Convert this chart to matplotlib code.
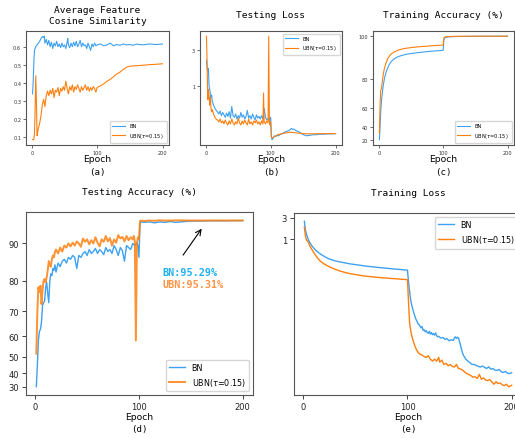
import numpy as np
import matplotlib.pyplot as plt

BLUE = '#3ea1f2'
ORANGE = '#ff7f0e'

# ---- (a) average feature cosine similarity ----
cos_bn_ep = [1, 2, 3, 4, 5, 6, 8, 10, 12, 14, 16, 18, 19, 20, 22, 24, 26, 28, 30, 32, 34, 36, 38, 40,
             42, 44, 46, 48, 50, 52, 54, 55, 56, 58, 60, 62, 64, 66, 68, 70, 72, 74, 76, 78, 80, 82,
             84, 86, 88, 90, 92, 94, 96, 98, 100, 105, 110, 115, 120, 125, 130, 135, 140, 145, 150,
             155, 160, 170, 180, 190, 200]
cos_bn = [0.34, 0.40, 0.51, 0.58, 0.59, 0.60, 0.61, 0.62, 0.63, 0.645, 0.655, 0.65, 0.658, 0.62,
          0.64, 0.61, 0.635, 0.60, 0.625, 0.59, 0.62, 0.605, 0.63, 0.60, 0.615, 0.595, 0.62, 0.60,
          0.61, 0.59, 0.625, 0.645, 0.61, 0.595, 0.62, 0.60, 0.625, 0.605, 0.63, 0.60, 0.615, 0.635,
          0.60, 0.62, 0.605, 0.61, 0.59, 0.62, 0.60, 0.58, 0.615, 0.60, 0.62, 0.605, 0.61, 0.615,
          0.605, 0.61, 0.62, 0.605, 0.612, 0.608, 0.615, 0.61, 0.612, 0.608, 0.614, 0.61, 0.615,
          0.612, 0.615]
cos_ubn_ep = [1, 2, 3, 4, 5, 6, 7, 8, 9, 10, 12, 14, 16, 18, 20, 22, 24, 26, 28, 30, 32, 34, 36, 38,
              40, 42, 44, 46, 48, 50, 52, 54, 56, 58, 60, 62, 64, 66, 68, 70, 72, 74, 76, 78, 80,
              82, 84, 86, 88, 90, 92, 94, 96, 98, 100, 105, 110, 115, 120, 125, 130, 135, 140, 145,
              150, 160, 170, 180, 190, 200]
cos_ubn = [0.088, 0.087, 0.09, 0.12, 0.25, 0.44, 0.30, 0.11, 0.13, 0.15, 0.18, 0.22, 0.28, 0.31,
           0.27, 0.33, 0.355, 0.33, 0.36, 0.34, 0.37, 0.32, 0.36, 0.35, 0.375, 0.33, 0.37, 0.355,
           0.38, 0.36, 0.41, 0.37, 0.34, 0.38, 0.36, 0.39, 0.35, 0.38, 0.365, 0.39, 0.37, 0.35,
           0.38, 0.36, 0.375, 0.39, 0.36, 0.38, 0.355, 0.375, 0.36, 0.38, 0.37, 0.35, 0.375, 0.385,
           0.395, 0.41, 0.42, 0.435, 0.45, 0.46, 0.475, 0.487, 0.493, 0.495, 0.498, 0.501, 0.503,
           0.506]

# ---- (b) testing loss ----
tl_bn_ep = [1, 2, 3, 4, 5, 6, 7, 8, 9, 10, 12, 14, 16, 18, 20, 22, 24, 26, 28, 30, 32, 34, 36, 38,
            40, 42, 44, 46, 48, 50, 52, 54, 56, 58, 60, 62, 64, 66, 68, 70, 72, 74, 76, 78, 80, 82,
            84, 86, 88, 90, 92, 94, 96, 98, 100, 101, 102, 104, 106, 108, 110, 112, 115, 118, 121,
            124, 127, 130, 132, 134, 136, 138, 140, 143, 146, 149, 152, 155, 160, 165, 170, 175,
            180, 185, 190, 195, 200]
tl_bn = [2.2, 1.7, 1.55, 1.7, 1.0, 0.9, 0.8, 0.7, 0.75, 0.62, 0.55, 0.5, 0.47, 0.45, 0.42, 0.46,
         0.40, 0.44, 0.41, 0.38, 0.43, 0.39, 0.45, 0.37, 0.53, 0.40, 0.38, 0.42, 0.36, 0.40, 0.37,
         0.44, 0.38, 0.41, 0.36, 0.39, 0.47, 0.37, 0.40, 0.36, 0.42, 0.38, 0.35, 0.41, 0.37, 0.39,
         0.36, 0.40, 0.36, 0.50, 0.38, 0.35, 0.37, 0.34, 0.38, 0.21, 0.19, 0.20, 0.215, 0.21, 0.22,
         0.215, 0.225, 0.23, 0.24, 0.245, 0.25, 0.26, 0.27, 0.26, 0.265, 0.255, 0.25, 0.245, 0.235,
         0.225, 0.22, 0.215, 0.218, 0.222, 0.222, 0.226, 0.225, 0.227, 0.228, 0.228, 0.23]
tl_ubn_ep = [1, 2, 3, 4, 5, 6, 7, 8, 9, 10, 12, 14, 16, 18, 20, 22, 24, 26, 28, 30, 32, 34, 36, 38,
             40, 42, 44, 46, 48, 50, 52, 54, 56, 58, 60, 62, 64, 66, 68, 70, 72, 74, 76, 78, 80,
             82, 84, 86, 88, 89, 90, 92, 94, 96, 97, 98, 99, 100, 101, 102, 104, 106, 108, 110,
             113, 116, 120, 125, 130, 135, 140, 145, 150, 160, 170, 180, 190, 200]
tl_ubn = [4.6, 2.0, 0.65, 0.9, 0.75, 0.55, 0.7, 0.5, 0.45, 0.48, 0.42, 0.38, 0.36, 0.35, 0.33,
          0.36, 0.32, 0.34, 0.31, 0.35, 0.32, 0.30, 0.34, 0.31, 0.36, 0.32, 0.30, 0.33, 0.31, 0.37,
          0.32, 0.30, 0.34, 0.31, 0.35, 0.32, 0.30, 0.36, 0.31, 0.33, 0.30, 0.34, 0.32, 0.35, 0.31,
          0.33, 0.30, 0.34, 0.31, 0.8, 0.33, 0.31, 0.34, 0.32, 4.6, 0.35, 0.30, 0.33, 0.21, 0.20,
          0.205, 0.21, 0.215, 0.22, 0.225, 0.228, 0.232, 0.236, 0.24, 0.238, 0.235, 0.232, 0.23,
          0.228, 0.229, 0.23, 0.23, 0.23]

# ---- (c) training accuracy ----
ta_bn_ep = [1, 2, 3, 4, 5, 6, 7, 8, 9, 10, 12, 14, 16, 18, 20, 23, 26, 30, 35, 40, 45, 50, 60, 70,
            80, 90, 99, 100, 101, 102, 104, 106, 110, 120, 130, 150, 175, 200]
ta_bn = [20, 40, 56, 64, 69, 73, 76, 78.5, 80.5, 82, 84.5, 86, 87.5, 88.5, 89.3, 90.2, 90.8, 91.4,
         91.9, 92.3, 92.6, 92.8, 93.2, 93.5, 93.8, 94.0, 94.2, 94.3, 98.5, 99.2, 99.5, 99.65, 99.75,
         99.85, 99.9, 99.95, 99.97, 99.98]
ta_ubn_ep = [1, 2, 3, 4, 5, 6, 7, 8, 9, 10, 12, 14, 16, 18, 20, 25, 30, 35, 40, 50, 60, 70, 80, 90,
             99, 100, 101, 102, 105, 110, 120, 140, 170, 200]
ta_ubn = [31, 62, 73, 74, 77, 80, 82.5, 84.5, 86, 87.3, 89, 90.5, 91.5, 92.2, 92.8, 93.7, 94.3,
          94.7, 95.0, 95.4, 95.7, 95.9, 96.1, 96.3, 96.4, 96.5, 99.2, 99.6, 99.8, 99.88, 99.93,
          99.96, 99.98, 99.99]

# ---- (d) testing accuracy ----
te_bn_ep = [1, 2, 3, 4, 5, 6, 7, 8, 9, 10, 11, 12, 13, 14, 15, 16, 17, 18, 19, 20, 22, 24, 26, 28,
            30, 32, 34, 36, 38, 40, 42, 44, 46, 48, 50, 52, 54, 56, 58, 60, 62, 64, 66, 68, 70, 72,
            74, 76, 78, 80, 82, 84, 86, 88, 90, 92, 94, 96, 98, 99, 100, 101, 102, 105, 110, 115,
            120, 125, 130, 135, 140, 145, 150, 160, 170, 180, 190, 200]
te_bn = [30.2, 45, 58, 62, 63, 66, 72, 73, 73.5, 78, 79.5, 76, 73, 80, 82, 81.5, 83.5, 83, 84.5,
         82.5, 85, 84, 85.5, 86, 85, 86.5, 86, 87, 86.5, 83.5, 87, 86.5, 87.5, 88, 87, 88.5, 87.5,
         88, 88.8, 87.5, 88.5, 88, 87.2, 89, 88, 88.5, 87.5, 89.5, 88.5, 87, 89, 88.2, 85.5, 89.5,
         89, 88.5, 90, 89.5, 90.2, 89.5, 86.5, 94.8, 95.0, 94.9, 95.0, 94.8, 95.0, 94.9, 95.1, 94.9,
         95.0, 95.1, 95.2, 95.2, 95.25, 95.25, 95.28, 95.29]
te_ubn_ep = [1, 2, 3, 4, 5, 6, 7, 8, 9, 10, 11, 12, 13, 14, 15, 16, 17, 18, 19, 20, 22, 24, 26, 28,
             30, 32, 34, 36, 38, 40, 42, 44, 46, 48, 50, 52, 54, 56, 58, 60, 62, 64, 66, 68, 70,
             72, 74, 76, 78, 80, 82, 84, 86, 88, 90, 92, 94, 95, 96, 97, 98, 99, 100, 101, 102,
             105, 110, 115, 120, 125, 130, 140, 150, 160, 170, 180, 190, 200]
te_ubn = [51.5, 70, 78, 76.5, 78.5, 72.5, 77, 80, 80.5, 79.5, 81, 83, 85.5, 84.5, 84, 86, 87, 86.5,
          88, 88.5, 87.5, 89, 88, 89.5, 89, 90, 89.3, 90.2, 89.5, 90.5, 90, 89.2, 91.2, 90.4, 91,
          89.8, 90.8, 90, 91.5, 90.2, 89.3, 91, 90.4, 91.8, 90.5, 91.3, 89.5, 91, 90.2, 92, 91.2,
          91.6, 90.5, 91.8, 90.8, 91.5, 91, 91.8, 90.5, 58, 90, 91.5, 91, 95.2, 95.3, 95.2, 95.3,
          95.25, 95.35, 95.3, 95.3, 95.35, 95.3, 95.3, 95.31, 95.3, 95.31, 95.31]

# ---- (e) training loss ----
tr_bn_ep = [1, 2, 3, 4, 5, 6, 8, 10, 12, 15, 18, 21, 25, 30, 35, 40, 45, 50, 55, 60, 65, 70, 75,
            80, 85, 90, 95, 99, 100, 101, 102, 103, 104, 105, 106, 107, 108, 109, 110, 111, 112,
            113, 114, 115, 116, 117, 118, 119, 120, 121, 122, 123, 124, 125, 126, 127, 128, 129,
            130, 132, 134, 136, 138, 140, 142, 144, 145, 146, 147, 148, 149, 150, 151, 152, 153,
            154, 155, 156, 158, 160, 162, 164, 166, 168, 170, 172, 174, 176, 178, 180, 182, 184,
            186, 188, 190, 192, 194, 196, 198, 200]
tr_bn = [2.5, 1.6, 1.3, 1.1, 0.95, 0.85, 0.72, 0.63, 0.56, 0.49, 0.44, 0.40, 0.36, 0.33, 0.31,
         0.295, 0.28, 0.27, 0.26, 0.25, 0.243, 0.236, 0.23, 0.224, 0.218, 0.213, 0.208, 0.204,
         0.203, 0.11, 0.07, 0.045, 0.034, 0.028, 0.023, 0.0195, 0.0165, 0.015, 0.013, 0.0125,
         0.0115, 0.0105, 0.0112, 0.0092, 0.0095, 0.0086, 0.0091, 0.0082, 0.0079, 0.0088, 0.0076,
         0.0083, 0.0074, 0.0078, 0.0072, 0.0081, 0.007, 0.0066, 0.0068, 0.0062, 0.0064, 0.0058,
         0.006, 0.0054, 0.0057, 0.0055, 0.0062, 0.0066, 0.0061, 0.0065, 0.0062, 0.0052, 0.0042,
         0.0034, 0.0028, 0.0025, 0.0023, 0.0021, 0.0019, 0.00175, 0.0016, 0.0016, 0.00152, 0.00145,
         0.0014, 0.00148, 0.00138, 0.0013, 0.00142, 0.00126, 0.0013, 0.0012, 0.00118, 0.00124,
         0.0011, 0.00106, 0.00112, 0.00102, 0.001, 0.00105]
tr_ubn_ep = [1, 2, 3, 4, 5, 6, 7, 8, 9, 10, 12, 14, 16, 18, 20, 23, 26, 30, 35, 40, 45, 50, 55, 60,
             65, 70, 75, 80, 85, 90, 95, 99, 100, 101, 102, 103, 104, 105, 106, 107, 108, 109, 110,
             112, 114, 116, 118, 120, 122, 124, 126, 128, 130, 131, 133, 135, 137, 139, 141, 143,
             145, 147, 149, 151, 153, 155, 157, 159, 161, 163, 165, 167, 169, 171, 173, 175, 177,
             179, 181, 183, 185, 187, 189, 191, 193, 195, 197, 199, 200]
tr_ubn = [1.85, 1.2, 0.95, 0.9, 0.85, 0.72, 0.66, 0.6, 0.55, 0.5, 0.43, 0.37, 0.33, 0.3, 0.28,
          0.255, 0.235, 0.215, 0.195, 0.18, 0.17, 0.162, 0.155, 0.149, 0.145, 0.141, 0.138, 0.135,
          0.132, 0.13, 0.127, 0.125, 0.124, 0.04, 0.014, 0.0095, 0.0072, 0.0058, 0.005, 0.0042,
          0.0037, 0.0033, 0.003, 0.0027, 0.0026, 0.0024, 0.0023, 0.0025, 0.0021, 0.0019, 0.0021,
          0.0019, 0.0023, 0.0018, 0.002, 0.0016, 0.0017, 0.0015, 0.0016, 0.00145, 0.0014, 0.0016,
          0.0013, 0.00126, 0.0012, 0.00108, 0.001, 0.00095, 0.0009, 0.00083, 0.00085, 0.00078,
          0.00096, 0.00075, 0.0008, 0.00072, 0.0007, 0.00074, 0.00065, 0.00058, 0.00066, 0.0006,
          0.00062, 0.00056, 0.00054, 0.00058, 0.00051, 0.00053, 0.00055]

LABELS = ['BN', r'UBN($\tau$=0.15)']
MONO = 'DejaVu Sans Mono'


def acc_fwd(v):
    return np.exp(np.asarray(v, dtype=float) / 50.0)


def acc_inv(v):
    return 50.0 * np.log(np.clip(np.asarray(v, dtype=float), 1e-9, None))


W, H = 515, 439
fig = plt.figure(figsize=(W / 100, H / 100), dpi=100)


def make_axes(l, r, t, b):
    return fig.add_axes([l / W, 1 - b / H, (r - l) / W, (b - t) / H])


def style(ax, small):
    for s in ax.spines.values():
        s.set_color('#555555')
        s.set_linewidth(0.8)
    if small:
        ax.tick_params(labelsize=3.6, length=2, width=0.5, pad=1.5, colors='#333333')
    else:
        ax.tick_params(labelsize=6, length=3, width=0.6, pad=2, colors='#222222')
    ax.set_xticks([0, 100, 200])
    ax.minorticks_off()


def caption(ax, letter, y_epoch, y_letter):
    bb = ax.get_position()
    xc = (bb.x0 + bb.x1) / 2
    fig.text(xc, 1 - y_epoch / H, 'Epoch', ha='center', va='center', fontsize=6.6)
    fig.text(xc, 1 - y_letter / H, letter, ha='center', va='center', fontsize=6.6, family=MONO)


# (a)
ax = make_axes(26, 169, 32, 146)
ax.plot(cos_bn_ep, cos_bn, color=BLUE, lw=0.8, label=LABELS[0])
ax.plot(cos_ubn_ep, cos_ubn, color=ORANGE, lw=0.8, label=LABELS[1])
ax.set_yticks([0.1, 0.2, 0.3, 0.4, 0.5, 0.6])
style(ax, True)
ax.set_title('Average Feature\nCosine Similarity', family=MONO, fontsize=6.8, pad=6, linespacing=1.25)
ax.legend(loc='lower right', fontsize=3.6, handlelength=2.6, borderpad=0.5)
caption(ax, '(a)', 160, 172)

# (b)
ax = make_axes(200, 342, 32, 146)
ax.plot(tl_bn_ep, tl_bn, color=BLUE, lw=0.8, label=LABELS[0])
ax.plot(tl_ubn_ep, tl_ubn, color=ORANGE, lw=0.8, label=LABELS[1])
ax.set_yscale('log')
style(ax, True)
ax.set_yticks([1, 3])
ax.set_yticklabels(['1', '3'])
ax.set_title('Testing Loss', family=MONO, fontsize=6.8, pad=10)
ax.legend(loc='upper right', fontsize=3.6, handlelength=2.6, borderpad=0.5)
caption(ax, '(b)', 160, 172)

# (c)
ax = make_axes(373, 514, 32, 146)
ax.plot(ta_bn_ep, ta_bn, color=BLUE, lw=0.8, label=LABELS[0])
ax.plot(ta_ubn_ep, ta_ubn, color=ORANGE, lw=0.8, label=LABELS[1])
ax.set_yscale('function', functions=(acc_fwd, acc_inv))
style(ax, True)
ax.set_yticks([20, 40, 60, 80, 100])
ax.set_yticklabels(['20', '40', '60', '80', '100'])
ax.set_title('Training Accuracy (%)', family=MONO, fontsize=6.8, pad=10)
ax.legend(loc='lower right', fontsize=3.6, handlelength=2.6, borderpad=0.5)
caption(ax, '(c)', 160, 172)

# (d)
ax = make_axes(26, 253, 213, 396)
ax.plot(te_bn_ep, te_bn, color=BLUE, lw=1.0, label=LABELS[0])
ax.plot(te_ubn_ep, te_ubn, color=ORANGE, lw=1.4, alpha=0.85, label=LABELS[1])
ax.set_yscale('function', functions=(acc_fwd, acc_inv))
style(ax, False)
ax.set_yticks([30, 40, 50, 60, 70, 80, 90])
ax.set_yticklabels(['30', '40', '50', '60', '70', '80', '90'])
ax.set_title('Testing Accuracy (%)', family=MONO, fontsize=6.8, pad=13)
ax.annotate('', xy=(162, 94.0), xytext=(141, 86.5),
            arrowprops=dict(arrowstyle='->', color='black', lw=0.8))
ax.text(123, 82.6, 'BN:95.29%', color='#21b0f3', fontsize=7.3, family=MONO,
        fontweight='bold', va='center')
ax.text(123, 78.9, 'UBN:95.31%', color='#ff9447', fontsize=7.3, family=MONO,
        fontweight='bold', va='center')
ax.legend(loc='lower right', fontsize=5.8)
caption(ax, '(d)', 418, 430)

# (e)
ax = make_axes(294, 522, 214, 396)
ax.plot(tr_bn_ep, tr_bn, color=BLUE, lw=1.0, label=LABELS[0])
ax.plot(tr_ubn_ep, tr_ubn, color=ORANGE, lw=1.0, label=LABELS[1])
ax.set_yscale('log')
style(ax, False)
ax.set_yticks([1, 3])
ax.set_yticklabels(['1', '3'])
ax.set_title('Training Loss', family=MONO, fontsize=6.8, pad=13)
ax.legend(loc='upper right', fontsize=5.8)
caption(ax, '(e)', 418, 430)

fig.savefig('out.png', dpi=100)
